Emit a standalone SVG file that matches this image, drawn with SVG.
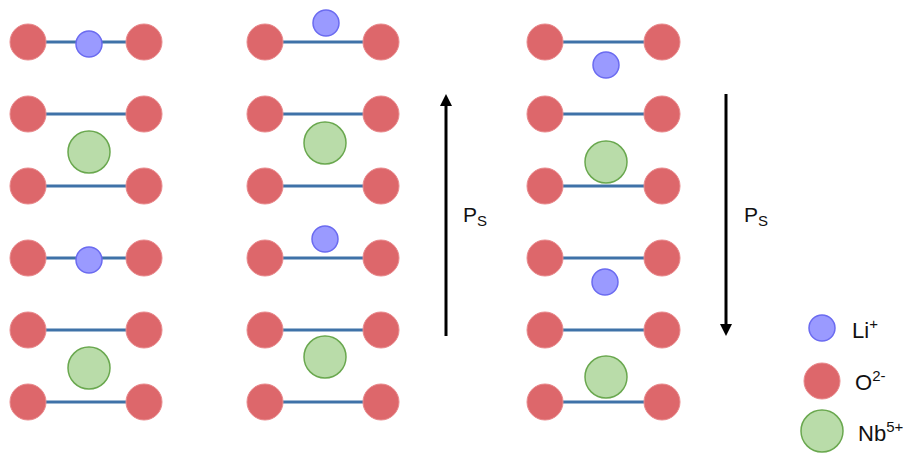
<svg xmlns="http://www.w3.org/2000/svg" width="906" height="454" viewBox="0 0 906 454">
<defs>
<style>
.o{fill:#dd676b;stroke:#e98a8d;stroke-width:1}
.li{fill:#9a9aff;stroke:#6b6bf0;stroke-width:1.5}
.nb{fill:#b9dca9;stroke:#6aa84f;stroke-width:1.5}
.bond{stroke:#3f72a8;stroke-width:3}
.ax{stroke:#000;stroke-width:3}
.t{font-family:"Liberation Sans",Arial,sans-serif;font-size:21px;fill:#111}
.lg{font-family:"Liberation Sans",Arial,sans-serif;font-size:22px;fill:#111}
</style>
<marker id="ah" viewBox="0 0 10 10" refX="5" refY="5" markerWidth="4" markerHeight="4.4" orient="auto-start-reverse" markerUnits="strokeWidth">
<path d="M0,0 L10,5 L0,10 z" fill="#000"/>
</marker>
</defs>
<g id="connectors">
<line class="bond" x1="28" y1="42" x2="144" y2="42"/>
<line class="bond" x1="28" y1="114" x2="144" y2="114"/>
<line class="bond" x1="28" y1="186" x2="144" y2="186"/>
<line class="bond" x1="28" y1="258" x2="144" y2="258"/>
<line class="bond" x1="28" y1="330" x2="144" y2="330"/>
<line class="bond" x1="28" y1="402" x2="144" y2="402"/>
<line class="bond" x1="265" y1="42" x2="381" y2="42"/>
<line class="bond" x1="265" y1="114" x2="381" y2="114"/>
<line class="bond" x1="265" y1="186" x2="381" y2="186"/>
<line class="bond" x1="265" y1="258" x2="381" y2="258"/>
<line class="bond" x1="265" y1="330" x2="381" y2="330"/>
<line class="bond" x1="265" y1="402" x2="381" y2="402"/>
<line class="bond" x1="545" y1="42" x2="662" y2="42"/>
<line class="bond" x1="545" y1="114" x2="662" y2="114"/>
<line class="bond" x1="545" y1="186" x2="662" y2="186"/>
<line class="bond" x1="545" y1="258" x2="662" y2="258"/>
<line class="bond" x1="545" y1="330" x2="662" y2="330"/>
<line class="bond" x1="545" y1="402" x2="662" y2="402"/>
<line class="ax" x1="446" y1="336" x2="446" y2="100" marker-end="url(#ah)"/>
<line class="ax" x1="726" y1="94" x2="726" y2="330" marker-end="url(#ah)"/>
</g>
<g id="col1">
<circle class="o" cx="28" cy="42" r="18"/><circle class="o" cx="144" cy="42" r="18"/>
<circle class="o" cx="28" cy="114" r="18"/><circle class="o" cx="144" cy="114" r="18"/>
<circle class="o" cx="28" cy="186" r="18"/><circle class="o" cx="144" cy="186" r="18"/>
<circle class="o" cx="28" cy="258" r="18"/><circle class="o" cx="144" cy="258" r="18"/>
<circle class="o" cx="28" cy="330" r="18"/><circle class="o" cx="144" cy="330" r="18"/>
<circle class="o" cx="28" cy="402" r="18"/><circle class="o" cx="144" cy="402" r="18"/>
<circle class="li" cx="89" cy="44" r="13"/>
<circle class="li" cx="89" cy="260" r="13"/>
<circle class="nb" cx="89" cy="152" r="21"/>
<circle class="nb" cx="89" cy="368" r="21"/>
</g>
<g id="col2">
<circle class="o" cx="265" cy="42" r="18"/><circle class="o" cx="381" cy="42" r="18"/>
<circle class="o" cx="265" cy="114" r="18"/><circle class="o" cx="381" cy="114" r="18"/>
<circle class="o" cx="265" cy="186" r="18"/><circle class="o" cx="381" cy="186" r="18"/>
<circle class="o" cx="265" cy="258" r="18"/><circle class="o" cx="381" cy="258" r="18"/>
<circle class="o" cx="265" cy="330" r="18"/><circle class="o" cx="381" cy="330" r="18"/>
<circle class="o" cx="265" cy="402" r="18"/><circle class="o" cx="381" cy="402" r="18"/>
<circle class="li" cx="326" cy="23" r="13"/>
<circle class="li" cx="325" cy="239" r="13"/>
<circle class="nb" cx="325" cy="143" r="21"/>
<circle class="nb" cx="325" cy="357" r="21"/>
</g>
<g id="col3">
<circle class="o" cx="545" cy="42" r="18"/><circle class="o" cx="662" cy="42" r="18"/>
<circle class="o" cx="545" cy="114" r="18"/><circle class="o" cx="662" cy="114" r="18"/>
<circle class="o" cx="545" cy="186" r="18"/><circle class="o" cx="662" cy="186" r="18"/>
<circle class="o" cx="545" cy="258" r="18"/><circle class="o" cx="662" cy="258" r="18"/>
<circle class="o" cx="545" cy="330" r="18"/><circle class="o" cx="662" cy="330" r="18"/>
<circle class="o" cx="545" cy="402" r="18"/><circle class="o" cx="662" cy="402" r="18"/>
<circle class="li" cx="606" cy="65" r="13"/>
<circle class="li" cx="605" cy="282" r="13"/>
<circle class="nb" cx="606" cy="162" r="21"/>
<circle class="nb" cx="606" cy="377" r="21"/>
</g>
<g id="label-ps-up">
<text class="t" x="463" y="222">P<tspan font-size="15" dy="4">S</tspan></text>
</g>
<g id="label-ps-down">
<text class="t" x="744" y="222">P<tspan font-size="15" dy="4">S</tspan></text>
</g>
<g id="legend">
<circle class="li" cx="822" cy="328" r="13"/>
<text class="lg" x="852" y="338">Li<tspan font-size="15" dy="-9">+</tspan></text>
<circle class="o" cx="822" cy="381" r="18"/>
<text class="lg" x="855" y="390">O<tspan font-size="15" dy="-9">2-</tspan></text>
<circle class="nb" cx="822" cy="431" r="21"/>
<text class="lg" x="858" y="441">Nb<tspan font-size="15" dy="-9">5+</tspan></text>
</g>
</svg>
